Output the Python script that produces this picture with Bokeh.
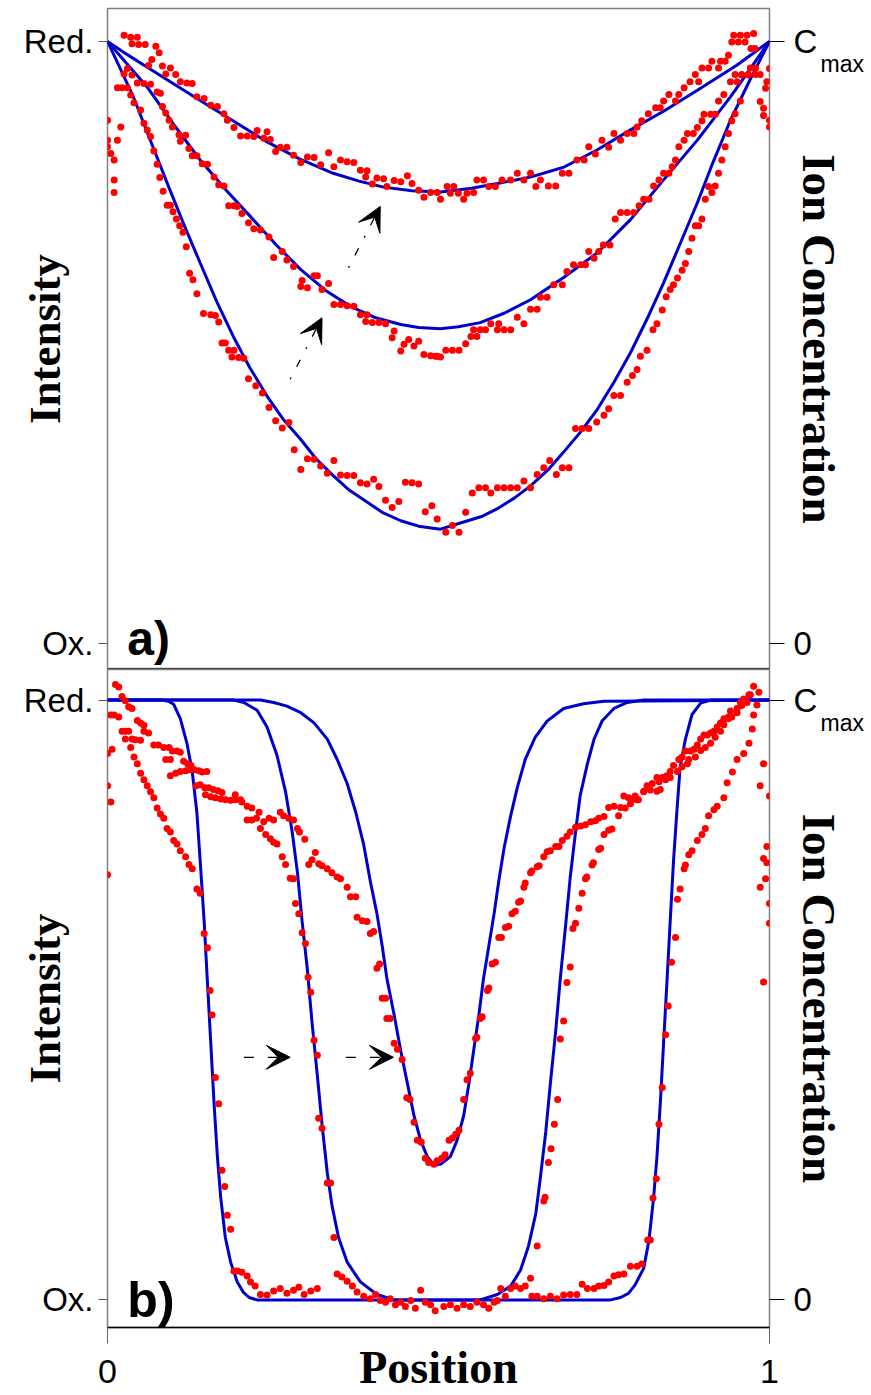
from bokeh.plotting import figure
from bokeh.layouts import column
from bokeh.models import LinearAxis, FixedTicker, Range1d, Label, Arrow, VeeHead, Span
from bokeh.embed import file_html
from bokeh.resources import INLINE

# ---------------- DATA: panel a) ----------------
a_fit1_x = [0, 0.030, 0.060, 0.140, 0.241, 0.290, 0.341, 0.380, 0.417, 0.460, 0.503, 0.550, 0.589, 0.640, 0.689, 0.740, 0.790, 0.840, 0.891, 0.950, 1.0]
a_fit1_y = [1.0, 0.978, 0.957, 0.902, 0.833, 0.805, 0.781, 0.768, 0.758, 0.752, 0.750, 0.756, 0.764, 0.775, 0.791, 0.820, 0.853, 0.884, 0.919, 0.960, 1.0]
a_fit2_x = [0, 0.030, 0.060, 0.100, 0.140, 0.180, 0.216, 0.255, 0.292, 0.330, 0.367, 0.405, 0.443, 0.470, 0.503, 0.530, 0.563, 0.600, 0.639,
            0.689, 0.740, 0.790, 0.840, 0.891, 0.941, 0.970, 1.0]
a_fit2_y = [1.0, 0.962, 0.924, 0.862, 0.803, 0.752, 0.709, 0.662, 0.621, 0.586, 0.560, 0.541, 0.530, 0.525, 0.523, 0.526, 0.533, 0.549, 0.571,
            0.608, 0.649, 0.704, 0.770, 0.836, 0.908, 0.953, 1.0]
a_fit3_x = [0, 0.020, 0.039, 0.065, 0.090, 0.115, 0.140, 0.165, 0.190, 0.215, 0.241, 0.265, 0.292, 0.315, 0.341, 0.365, 0.392, 0.415, 0.443,
            0.470, 0.503, 0.538, 0.565, 0.589, 0.615, 0.639, 0.665, 0.689, 0.715, 0.740, 0.765, 0.790, 0.815, 0.840, 0.865, 0.891, 0.915, 0.941,
            0.970, 1.0]
a_fit3_y = [1.0, 0.953, 0.908, 0.835, 0.765, 0.697, 0.632, 0.568, 0.510, 0.458, 0.411, 0.373, 0.339, 0.307, 0.279, 0.255, 0.235, 0.218, 0.204,
            0.195, 0.190, 0.202, 0.211, 0.224, 0.242, 0.262, 0.288, 0.318, 0.352, 0.389, 0.434, 0.483, 0.539, 0.599, 0.664, 0.732, 0.800, 0.869,
            0.935, 1.0]

a_dots1_x = [0.025, 0.035, 0.045, 0.037, 0.047, 0.057, 0.073, 0.078, 0.067, 0.062, 0.083, 0.095, 0.088, 0.103, 0.110, 0.120, 0.128, 0.135, 0.146, 0.156,
             0.166, 0.176, 0.181, 0.191, 0.201, 0.211, 0.221, 0.226, 0.241, 0.236, 0.246, 0.254, 0.261, 0.271, 0.281, 0.292, 0.302, 0.312, 0.322, 0.334,
             0.342, 0.352, 0.362, 0.372, 0.382, 0.392, 0.390, 0.400, 0.407, 0.417, 0.422, 0.433, 0.443, 0.453, 0.460, 0.470, 0.478, 0.488, 0.498,
             0.503, 0.513, 0.523, 0.518, 0.530, 0.538, 0.543, 0.553, 0.558, 0.568, 0.576, 0.586, 0.596, 0.609, 0.619, 0.629, 0.639, 0.647, 0.654, 0.666,
             0.677, 0.687, 0.697, 0.709, 0.720, 0.727, 0.737, 0.747, 0.757, 0.765, 0.775, 0.785, 0.795, 0.800, 0.807, 0.817, 0.828, 0.835, 0.840, 0.848,
             0.858, 0.863, 0.871, 0.880, 0.888, 0.893, 0.898, 0.908, 0.913, 0.923, 0.926, 0.933, 0.938, 0.946, 0.956, 0.966, 0.976, 0.943, 0.953, 0.963,
             0.972, 0.978]
a_dots1_y = [1.010, 1.007, 1.007, 0.996, 0.995, 0.995, 0.992, 0.981, 0.970, 0.960, 0.959, 0.956, 0.946, 0.945, 0.933, 0.931, 0.930, 0.908, 0.905, 0.894,
             0.892, 0.880, 0.869, 0.857, 0.843, 0.843, 0.842, 0.852, 0.850, 0.839, 0.837, 0.817, 0.824, 0.824, 0.811, 0.799, 0.808, 0.807, 0.795, 0.815,
             0.792, 0.803, 0.800, 0.799, 0.786, 0.785, 0.775, 0.763, 0.773, 0.772, 0.759, 0.769, 0.767, 0.777, 0.764, 0.753, 0.741, 0.749, 0.749,
             0.738, 0.759, 0.759, 0.748, 0.748, 0.738, 0.748, 0.749, 0.770, 0.770, 0.759, 0.759, 0.770, 0.770, 0.781, 0.770, 0.781, 0.759, 0.770, 0.760,
             0.760, 0.781, 0.781, 0.803, 0.803, 0.825, 0.813, 0.836, 0.824, 0.847, 0.836, 0.847, 0.847, 0.858, 0.868, 0.880, 0.890, 0.890, 0.901, 0.912,
             0.901, 0.912, 0.923, 0.933, 0.945, 0.933, 0.956, 0.956, 0.967, 0.956, 0.967, 0.967, 0.977, 1.010, 1.010, 1.010, 1.013, 0.999, 0.999, 0.999,
             0.988, 0.988]

a_dots2_x = [0.030, 0.025, 0.037, 0.045, 0.055, 0.065, 0.075, 0.080, 0.083, 0.088, 0.093, 0.098, 0.108, 0.118, 0.110, 0.123, 0.128, 0.135, 0.143, 0.151,
             0.161, 0.168, 0.176, 0.183, 0.191, 0.196, 0.203, 0.213, 0.221, 0.231, 0.244, 0.251, 0.264, 0.271, 0.281, 0.294, 0.292, 0.302, 0.312, 0.317,
             0.324, 0.334, 0.342, 0.352, 0.362, 0.372, 0.382, 0.392, 0.390, 0.400, 0.410, 0.420, 0.433, 0.430, 0.443, 0.448, 0.455, 0.463, 0.470, 0.478,
             0.488, 0.498,
             0.495, 0.503, 0.511, 0.521, 0.531, 0.541, 0.549, 0.558, 0.553, 0.563, 0.571, 0.579, 0.589, 0.591, 0.599, 0.609, 0.619, 0.629, 0.639, 0.649,
             0.654, 0.664, 0.674, 0.687, 0.694, 0.704, 0.715, 0.722, 0.727, 0.735, 0.742, 0.749, 0.759, 0.767, 0.775, 0.785, 0.795, 0.803, 0.810, 0.818,
             0.825, 0.833, 0.840, 0.848, 0.853, 0.858, 0.863, 0.871, 0.876, 0.885, 0.891, 0.898, 0.901, 0.911, 0.918, 0.923, 0.931, 0.941, 0.951, 0.948,
             0.958, 0.968, 0.979]
a_dots2_y = [0.955, 0.946, 0.944, 0.931, 0.930, 0.929, 0.916, 0.914, 0.892, 0.881, 0.869, 0.858, 0.845, 0.844, 0.834, 0.822, 0.810, 0.810, 0.797, 0.796,
             0.775, 0.762, 0.760, 0.727, 0.727, 0.726, 0.714, 0.699, 0.689, 0.687, 0.675, 0.641, 0.651, 0.637, 0.626, 0.603, 0.593, 0.591, 0.611, 0.611,
             0.588, 0.598, 0.563, 0.563, 0.561, 0.560, 0.546, 0.546, 0.535, 0.533, 0.533, 0.531, 0.519, 0.508, 0.486, 0.497, 0.505, 0.494, 0.502, 0.480,
             0.478, 0.477,
             0.477, 0.476, 0.487, 0.487, 0.487, 0.498, 0.510, 0.510, 0.521, 0.521, 0.521, 0.531, 0.521, 0.531, 0.521, 0.521, 0.542, 0.531, 0.555, 0.555,
             0.575, 0.575, 0.596, 0.596, 0.618, 0.629, 0.629, 0.629, 0.651, 0.640, 0.651, 0.662, 0.662, 0.705, 0.716, 0.716, 0.716, 0.727, 0.738, 0.738,
             0.760, 0.770, 0.781, 0.781, 0.792, 0.803, 0.825, 0.836, 0.847, 0.847, 0.857, 0.868, 0.879, 0.879, 0.879, 0.901, 0.912, 0.933, 0.933, 0.945,
             0.945, 0.945, 0.945]

a_dots3_x = [0.015, 0.022, 0.030, 0.020, 0.0, 0.0, 0.015, 0.0, 0.005, 0.010, 0.010, 0.010, 0.035, 0.040, 0.050, 0.055, 0.060, 0.065, 0.070, 0.075,
             0.079, 0.084, 0.090, 0.095, 0.099, 0.104, 0.109, 0.114, 0.119, 0.124, 0.129, 0.135, 0.145, 0.156, 0.163, 0.168, 0.173, 0.178, 0.183, 0.191,
             0.188, 0.198, 0.206, 0.213, 0.224, 0.234, 0.244, 0.254, 0.264, 0.274, 0.282, 0.292, 0.302, 0.312, 0.322, 0.332, 0.342, 0.352, 0.362, 0.372,
             0.382, 0.392, 0.402, 0.410, 0.420, 0.430, 0.440, 0.450, 0.460, 0.470, 0.480, 0.490, 0.498,
             0.511, 0.521, 0.531, 0.541, 0.551, 0.561, 0.571, 0.579, 0.589, 0.599, 0.609, 0.619, 0.629, 0.639, 0.649, 0.659, 0.668, 0.678, 0.687, 0.697,
             0.707, 0.717, 0.727, 0.739, 0.750, 0.757, 0.765, 0.775, 0.785, 0.793, 0.800, 0.805, 0.815, 0.824, 0.830, 0.838, 0.844, 0.850, 0.855, 0.861,
             0.868, 0.873, 0.878, 0.883, 0.888, 0.893, 0.898, 0.903, 0.908, 0.913, 0.918, 0.923, 0.928, 0.933, 0.938, 0.943, 0.948, 0.956, 0.958, 0.968,
             0.971, 0.979, 0.986, 0.991, 0.991, 0.994, 0.996, 1.0, 1.0, 1.0, 0.986]
a_dots3_y = [0.923, 0.923, 0.923, 0.858, 0.869, 0.836, 0.836, 0.825, 0.814, 0.803, 0.770, 0.749, 0.911, 0.898, 0.886, 0.864, 0.853, 0.842, 0.818, 0.796,
             0.774, 0.751, 0.728, 0.728, 0.717, 0.705, 0.694, 0.683, 0.659, 0.615, 0.604, 0.581, 0.548, 0.546, 0.545, 0.534, 0.499, 0.499, 0.487, 0.487,
             0.476, 0.475, 0.474, 0.440, 0.428, 0.416, 0.392, 0.370, 0.358, 0.367, 0.322, 0.289, 0.307, 0.306, 0.295, 0.283, 0.304, 0.280, 0.279, 0.279,
             0.267, 0.265, 0.273, 0.261, 0.238, 0.226, 0.236, 0.268, 0.267, 0.265, 0.219, 0.229, 0.207,
             0.185, 0.196, 0.185, 0.218, 0.250, 0.259, 0.259, 0.250, 0.259, 0.259, 0.259, 0.259, 0.270, 0.259, 0.281, 0.292, 0.304, 0.281, 0.292, 0.292,
             0.357, 0.357, 0.357, 0.368, 0.379, 0.390, 0.412, 0.412, 0.434, 0.445, 0.455, 0.477, 0.487, 0.521, 0.531, 0.554, 0.576, 0.588, 0.596, 0.607,
             0.620, 0.631, 0.651, 0.673, 0.694, 0.694, 0.705, 0.738, 0.759, 0.749, 0.760, 0.781, 0.803, 0.825, 0.847, 0.868, 0.880, 0.901, 0.944, 0.944,
             0.956, 0.956, 0.900, 0.889, 0.877, 0.922, 0.933, 0.955, 0.869, 0.858, 0.945]

# ---------------- DATA: panel b) ----------------
b_fit1_x = [0, 0.082, 0.092, 0.100, 0.110, 0.120, 0.128, 0.135, 0.140, 0.146, 0.151, 0.156, 0.161, 0.166, 0.171, 0.178, 0.186, 0.196, 0.205, 0.214,
            0.226, 0.760, 0.775, 0.787, 0.797, 0.810, 0.818, 0.825, 0.830, 0.835, 0.840, 0.845, 0.850, 0.855, 0.860, 0.865, 0.873, 0.883, 0.896, 0.911, 1.0]
b_fit1_y = [1.0, 1.0, 0.998, 0.993, 0.969, 0.928, 0.881, 0.813, 0.732, 0.631, 0.529, 0.428, 0.327, 0.239, 0.171, 0.104, 0.063, 0.030, 0.013, 0.004,
            0.0, 0.0, 0.004, 0.011, 0.025, 0.053, 0.100, 0.171, 0.239, 0.327, 0.428, 0.529, 0.631, 0.732, 0.813, 0.888, 0.935, 0.976, 0.995, 1.0, 1.0]
b_fit2_x = [0, 0.191, 0.206, 0.226, 0.241, 0.256, 0.269, 0.279, 0.287, 0.294, 0.302, 0.309, 0.317, 0.324, 0.332, 0.339, 0.349, 0.362, 0.382, 0.407, 0.433,
            0.563, 0.589, 0.609, 0.624, 0.636, 0.647, 0.654, 0.662, 0.669, 0.677, 0.684, 0.692, 0.699, 0.707, 0.714, 0.725, 0.735, 0.747, 0.765, 0.785, 0.810, 1.0]
b_fit2_y = [1.0, 1.0, 0.996, 0.983, 0.955, 0.908, 0.847, 0.780, 0.712, 0.631, 0.550, 0.462, 0.374, 0.293, 0.212, 0.158, 0.104, 0.063, 0.030, 0.009, 0.0,
            0.0, 0.009, 0.023, 0.050, 0.090, 0.144, 0.205, 0.280, 0.361, 0.448, 0.536, 0.624, 0.705, 0.780, 0.841, 0.894, 0.935, 0.965, 0.986, 0.996, 1.0, 1.0]
b_fit3_x = [0, 0.231, 0.251, 0.271, 0.292, 0.312, 0.332, 0.347, 0.362, 0.375, 0.387, 0.397, 0.407, 0.415, 0.422, 0.433, 0.443, 0.453, 0.463, 0.473,
            0.483, 0.493, 0.503, 0.518, 0.528, 0.538, 0.546, 0.553, 0.561, 0.568, 0.576, 0.584, 0.591, 0.599, 0.609, 0.619, 0.631, 0.646, 0.664, 0.689,
            0.719, 0.750, 1.0]
b_fit3_y = [1.0, 1.0, 0.996, 0.990, 0.979, 0.962, 0.935, 0.901, 0.861, 0.813, 0.759, 0.698, 0.644, 0.590, 0.536, 0.475, 0.415, 0.361, 0.307, 0.266,
            0.239, 0.225, 0.226, 0.239, 0.266, 0.307, 0.361, 0.415, 0.475, 0.536, 0.590, 0.644, 0.698, 0.753, 0.807, 0.854, 0.901, 0.938, 0.965, 0.986,
            0.994, 0.998, 1.0]

b_dots1_x = [0.012, 0.017, 0.022, 0.027, 0.032, 0.037, 0.027, 0.035, 0.040, 0.045, 0.050, 0.055, 0.060, 0.065, 0.070, 0.075, 0.080, 0.085, 0.090, 0.095,
             0.100, 0.105, 0.110, 0.118, 0.123, 0.128, 0.135, 0.140, 0.146, 0.151, 0.155, 0.158, 0.163, 0.168, 0.173, 0.177, 0.181, 0.186, 0.191, 0.196,
             0.203, 0.211, 0.216, 0.223, 0.231, 0.241, 0.251, 0.261, 0.271, 0.281, 0.289, 0.297, 0.307, 0.317,
             0.717, 0.725, 0.735, 0.742, 0.750, 0.757, 0.765, 0.772, 0.780, 0.790, 0.800, 0.807, 0.816, 0.820, 0.824, 0.829, 0.833, 0.838, 0.843, 0.847,
             0.852, 0.858, 0.861, 0.865, 0.871, 0.873, 0.878, 0.883, 0.891, 0.898, 0.903, 0.908, 0.916, 0.921, 0.931, 0.936, 0.944, 0.951, 0.961, 0.969,
             0.974, 0.976, 0.981,
             0.991, 0.986, 1.0, 0.996, 0.991, 0.996, 0.994, 0.986, 1.0, 1.0, 0.991, 0.0, 0.007, 0.0, 0.005, 0.0]
b_dots1_y = [1.026, 1.022, 1.006, 0.999, 0.989, 0.986, 0.935, 0.921, 0.905, 0.894, 0.878, 0.867, 0.857, 0.847, 0.837, 0.820, 0.810, 0.803, 0.786, 0.780,
             0.766, 0.760, 0.749, 0.739, 0.726, 0.719, 0.685, 0.678, 0.611, 0.587, 0.516, 0.475, 0.371, 0.327, 0.216, 0.189, 0.141, 0.118, 0.048, 0.048,
             0.046, 0.040, 0.030, 0.023, 0.009, 0.008, 0.015, 0.019, 0.011, 0.016, 0.021, 0.009, 0.015, 0.019,
             0.026, 0.019, 0.019, 0.023, 0.024, 0.030, 0.040, 0.042, 0.043, 0.056, 0.056, 0.060, 0.100, 0.100, 0.170, 0.202, 0.293, 0.354, 0.442, 0.490,
             0.563, 0.604, 0.668, 0.685, 0.719, 0.725, 0.742, 0.749, 0.766, 0.776, 0.786, 0.807, 0.817, 0.823, 0.837, 0.862, 0.880, 0.901, 0.911, 0.928,
             0.952, 0.975, 0.992,
             0.894, 0.857, 0.840, 0.756, 0.736, 0.729, 0.702, 0.688, 0.661, 0.628, 0.530, 0.911, 0.918, 0.857, 0.830, 0.709]

b_dots2_x = [0.005, 0.010, 0.017, 0.022, 0.027, 0.032, 0.037, 0.042, 0.050, 0.055, 0.062, 0.070, 0.077, 0.085, 0.093, 0.098, 0.105, 0.110, 0.088, 0.095,
             0.115, 0.121, 0.126, 0.131, 0.095, 0.103, 0.110, 0.118, 0.124, 0.138, 0.143, 0.150, 0.134, 0.140, 0.147, 0.153, 0.160, 0.167, 0.173, 0.148,
             0.156, 0.163, 0.171, 0.178, 0.186, 0.193, 0.201, 0.193, 0.203, 0.211, 0.218, 0.231, 0.239, 0.246, 0.251, 0.256, 0.264, 0.269, 0.276, 0.281,
             0.284, 0.289, 0.294, 0.299, 0.303, 0.307, 0.312, 0.317, 0.319, 0.324, 0.332, 0.337, 0.342,
             0.347, 0.354, 0.362, 0.370, 0.377, 0.387, 0.397, 0.405, 0.412, 0.420, 0.427, 0.435, 0.443, 0.450, 0.458, 0.465, 0.473, 0.480, 0.488, 0.495,
             0.508, 0.518, 0.528, 0.538, 0.548, 0.558, 0.568, 0.576, 0.584, 0.589, 0.594, 0.601, 0.609, 0.616, 0.624, 0.631, 0.639, 0.641, 0.649, 0.659,
             0.669, 0.679, 0.689, 0.699, 0.709,
             0.649, 0.659, 0.661, 0.666, 0.670, 0.675, 0.680, 0.684, 0.689, 0.694, 0.699, 0.703, 0.707, 0.712, 0.717, 0.722, 0.724, 0.732, 0.734, 0.742,
             0.745, 0.750, 0.757, 0.762, 0.772, 0.782, 0.790, 0.800, 0.810, 0.820, 0.830, 0.833, 0.843, 0.850, 0.861, 0.868, 0.876, 0.878, 0.888, 0.896,
             0.903, 0.911, 0.918, 0.926, 0.931, 0.938, 0.943, 0.951, 0.958, 0.966, 0.971]
b_dots2_y = [0.975, 0.975, 0.972, 0.948, 0.948, 0.948, 0.935, 0.934, 0.933, 0.948, 0.945, 0.925, 0.925, 0.921, 0.921, 0.915, 0.915, 0.913, 0.901, 0.901,
             0.898, 0.894, 0.891, 0.884, 0.874, 0.878, 0.881, 0.882, 0.884, 0.882, 0.880, 0.881, 0.857, 0.859, 0.854, 0.854, 0.851, 0.849, 0.846, 0.842,
             0.839, 0.837, 0.835, 0.834, 0.833, 0.834, 0.834, 0.842, 0.830, 0.823, 0.820, 0.786, 0.776, 0.769, 0.763, 0.760, 0.739, 0.726, 0.703, 0.702,
             0.661, 0.644, 0.612, 0.594, 0.538, 0.513, 0.433, 0.408, 0.303, 0.286, 0.195, 0.195, 0.104,
             0.043, 0.038, 0.031, 0.023, 0.013, 0.006, 0.002, 0.009, -0.001, -0.004, 0.002, -0.008, -0.004, -0.011, -0.001, -0.014, 0.016, -0.004, -0.008, -0.018,
             -0.011, -0.008, -0.014, -0.008, -0.011, -0.004, -0.008, -0.014, -0.004, -0.001, 0.019, 0.006, 0.019, 0.023, 0.019, 0.023, 0.036, 0.006, 0.006, 0.002,
             0.006, 0.002, 0.008, 0.009, 0.009,
             0.090, 0.165, 0.171, 0.229, 0.252, 0.293, 0.334, 0.435, 0.465, 0.529, 0.555, 0.619, 0.628, 0.653, 0.678, 0.702, 0.705, 0.725, 0.729, 0.751,
             0.753, 0.776, 0.783, 0.785, 0.807, 0.820, 0.827, 0.834, 0.848, 0.850, 0.848, 0.864, 0.867, 0.871, 0.881, 0.889, 0.894, 0.901, 0.905, 0.916,
             0.921, 0.928, 0.938, 0.948, 0.959, 0.969, 0.972, 0.979, 0.991, 0.996, 1.009]

b_dots3_x = [0.045, 0.050, 0.055, 0.211, 0.218, 0.225, 0.229,
             0.236, 0.244, 0.251, 0.261, 0.266, 0.274, 0.281, 0.287, 0.290, 0.298, 0.304, 0.309, 0.314, 0.319, 0.324, 0.332, 0.339, 0.347, 0.352, 0.362,
             0.367, 0.375, 0.377, 0.385, 0.392, 0.397, 0.402, 0.407, 0.411, 0.415, 0.420, 0.422, 0.427, 0.433, 0.438, 0.445, 0.452, 0.457, 0.463, 0.468,
             0.474, 0.480, 0.485, 0.493, 0.498,
             0.505, 0.510, 0.516, 0.521, 0.526, 0.531, 0.538, 0.543, 0.548, 0.556, 0.558, 0.563, 0.566, 0.574, 0.576, 0.581, 0.586, 0.591, 0.595, 0.601,
             0.606, 0.611, 0.616, 0.621, 0.624, 0.629, 0.631, 0.639, 0.641, 0.649, 0.652, 0.659, 0.664, 0.669, 0.677, 0.682, 0.687, 0.694, 0.699, 0.707,
             0.715, 0.722, 0.730, 0.737, 0.742, 0.750, 0.757, 0.765, 0.775, 0.780, 0.787, 0.792, 0.797, 0.802, 0.810, 0.815, 0.823, 0.830, 0.838, 0.835,
             0.845, 0.850, 0.855, 0.863, 0.868, 0.873, 0.881, 0.886, 0.891, 0.896, 0.901, 0.906, 0.911, 0.916, 0.921, 0.926, 0.931, 0.938, 0.941, 0.951,
             0.956, 0.961, 0.969, 0.976, 0.984]
b_dots3_y = [0.966, 0.962, 0.958, 0.800, 0.800, 0.803, 0.813,
             0.797, 0.803, 0.800, 0.813, 0.807, 0.803, 0.800, 0.786, 0.780, 0.768, 0.726, 0.734, 0.746, 0.727, 0.724, 0.719, 0.712, 0.705, 0.702, 0.688,
             0.672, 0.672, 0.638, 0.632, 0.631, 0.611, 0.614, 0.553, 0.560, 0.503, 0.503, 0.469, 0.469, 0.428, 0.418, 0.401, 0.337, 0.334, 0.296, 0.266,
             0.263, 0.236, 0.229, 0.226, 0.232,
             0.236, 0.242, 0.266, 0.270, 0.276, 0.283, 0.334, 0.367, 0.378, 0.436, 0.438, 0.469, 0.472, 0.516, 0.520, 0.560, 0.563, 0.604, 0.604, 0.621,
             0.623, 0.644, 0.648, 0.663, 0.665, 0.688, 0.695, 0.712, 0.715, 0.722, 0.724, 0.739, 0.747, 0.749, 0.756, 0.756, 0.766, 0.773, 0.780, 0.788,
             0.790, 0.792, 0.797, 0.799, 0.803, 0.806, 0.821, 0.823, 0.821, 0.840, 0.837, 0.834, 0.840, 0.834, 0.847, 0.857, 0.861, 0.871, 0.871, 0.851,
             0.874, 0.881, 0.891, 0.901, 0.905, 0.915, 0.915, 0.918, 0.925, 0.935, 0.942, 0.942, 0.945, 0.948, 0.955, 0.962, 0.969, 0.972, 0.982, 0.986,
             0.996, 1.002, 1.009, 1.023, 1.013]

# axis tick values / labels
x_ticks = [0, 1]
y_ticks = [0, 1]
left_labels = {0: "Ox.", 1: "Red."}
right_labels = {0: "0", 1: "C"}
sub_tick = [0.962]
sub_labels = {0.962: "max"}

BLUE = "#0000CC"
RED = "#FF0000"
SANS = "Liberation Sans"
SERIF = "Liberation Serif"


def make_panel(ylo, yhi, height, top, bottom, show_x):
    p = figure(width=871, height=height, title=None,
               x_range=Range1d(0, 1), y_range=Range1d(ylo, yhi),
               output_backend="svg", toolbar_location=None,
               x_axis_location="below" if show_x else None,
               y_axis_location="left",
               min_border_left=107, min_border_right=102,
               min_border_top=top, min_border_bottom=bottom)
    p.xgrid.visible = False
    p.ygrid.visible = False
    p.outline_line_color = "#808080"
    p.outline_line_width = 1.5
    p.background_fill_color = "white"
    p.border_fill_color = "white"

    ya = p.yaxis[0]
    ya.ticker = FixedTicker(ticks=y_ticks)
    ya.major_label_overrides = left_labels
    ya.major_label_text_font = SANS
    ya.major_label_text_font_size = "33px"
    ya.major_label_text_color = "black"
    ya.major_tick_out = 9
    ya.major_tick_in = 0
    ya.major_tick_line_color = "#555555"
    ya.minor_tick_line_color = None
    ya.axis_line_color = None
    ya.major_label_standoff = 5
    ya.axis_label = "Intensity"
    ya.axis_label_text_font = SERIF
    ya.axis_label_text_font_style = "bold"
    ya.axis_label_text_font_size = "45px"
    ya.axis_label_text_color = "black"
    ya.axis_label_standoff = -49

    # right axis 1: "0" and "C"
    ra = LinearAxis(ticker=FixedTicker(ticks=y_ticks), major_label_overrides=right_labels)
    ra.major_label_text_font = SANS
    ra.major_label_text_font_size = "33px"
    ra.major_label_text_color = "black"
    ra.major_tick_out = 15
    ra.major_tick_in = 0
    ra.major_tick_line_color = "black"
    ra.minor_tick_line_color = None
    ra.axis_line_color = None
    ra.major_label_standoff = 9
    p.add_layout(ra, "right")

    # right axis 2: subscript "max" and the axis title
    rb = LinearAxis(ticker=FixedTicker(ticks=sub_tick), major_label_overrides=sub_labels)
    rb.major_label_text_font = SANS
    rb.major_label_text_font_size = "23px"
    rb.major_label_text_color = "black"
    rb.major_tick_out = 0
    rb.major_tick_in = 0
    rb.major_tick_line_color = None
    rb.minor_tick_line_color = None
    rb.axis_line_color = None
    rb.major_label_standoff = 0
    rb.axis_label = "Ion Concentration"
    rb.axis_label_text_font = SERIF
    rb.axis_label_text_font_style = "bold"
    rb.axis_label_text_font_size = "47px"
    rb.axis_label_text_color = "black"
    rb.axis_label_standoff = -74
    p.add_layout(rb, "right")

    if show_x:
        xa = p.xaxis[0]
        xa.ticker = FixedTicker(ticks=x_ticks)
        xa.major_label_text_font = SANS
        xa.major_label_text_font_size = "34px"
        xa.major_label_text_color = "black"
        xa.major_tick_out = 16
        xa.major_tick_in = 0
        xa.major_tick_line_color = "#666666"
        xa.minor_tick_line_color = None
        xa.axis_line_color = "black"
        xa.axis_line_width = 1.5
        xa.major_label_standoff = 16
        xa.axis_label = "Position"
        xa.axis_label_text_font = SERIF
        xa.axis_label_text_font_style = "bold"
        xa.axis_label_text_font_size = "46px"
        xa.axis_label_text_color = "black"
        xa.axis_label_standoff = -44
    return p


# ---------------- panel a ----------------
pa = make_panel(-0.043, 1.0546, 669, 8, 0, False)
for fx, fy in [(a_fit1_x, a_fit1_y), (a_fit2_x, a_fit2_y), (a_fit3_x, a_fit3_y)]:
    pa.line(fx, fy, line_color=BLUE, line_width=3)
for dx, dy in [(a_dots1_x, a_dots1_y), (a_dots2_x, a_dots2_y), (a_dots3_x, a_dots3_y)]:
    pa.scatter(dx, dy, size=7, fill_color=RED, line_color=None)
pa.add_layout(Span(location=-0.043, dimension="width", line_color="black", line_width=2))
pa.add_layout(Arrow(end=VeeHead(size=24, fill_color="black", line_color="black"),
                    x_start=0.276, y_start=0.439, x_end=0.324, y_end=0.541,
                    line_color="black", line_width=1.3, line_dash="2 12 8 12"))
pa.add_layout(Arrow(end=VeeHead(size=24, fill_color="black", line_color="black"),
                    x_start=0.364, y_start=0.624, x_end=0.412, y_end=0.726,
                    line_color="black", line_width=1.3, line_dash="2 12 8 12"))
pa.add_layout(Label(x=0.03, y=0.008, text="a)", text_font=SANS, text_font_style="bold",
                    text_font_size="48px", text_color="black", text_baseline="alphabetic"))

# ---------------- panel b ----------------
pb = make_panel(-0.046, 1.051, 726, 0, 65, True)
for fx, fy in [(b_fit1_x, b_fit1_y), (b_fit2_x, b_fit2_y), (b_fit3_x, b_fit3_y)]:
    pb.line(fx, fy, line_color=BLUE, line_width=3)
for dx, dy in [(b_dots1_x, b_dots1_y), (b_dots2_x, b_dots2_y), (b_dots3_x, b_dots3_y)]:
    pb.scatter(dx, dy, size=7, fill_color=RED, line_color=None)
pb.add_layout(Arrow(end=VeeHead(size=24, fill_color="black", line_color="black"),
                    x_start=0.206, y_start=0.4045, x_end=0.276, y_end=0.4045,
                    line_color="black", line_width=1.3, line_dash="10 14"))
pb.add_layout(Arrow(end=VeeHead(size=24, fill_color="black", line_color="black"),
                    x_start=0.360, y_start=0.4045, x_end=0.432, y_end=0.4045,
                    line_color="black", line_width=1.3, line_dash="10 14"))
pb.add_layout(Label(x=0.03, y=0.0, text="b)", text_font=SANS, text_font_style="bold",
                    text_font_size="50px", text_color="black", text_baseline="alphabetic"))

layout = column(pa, pb, spacing=0)
open("out.html", "w").write(file_html(layout, INLINE))
